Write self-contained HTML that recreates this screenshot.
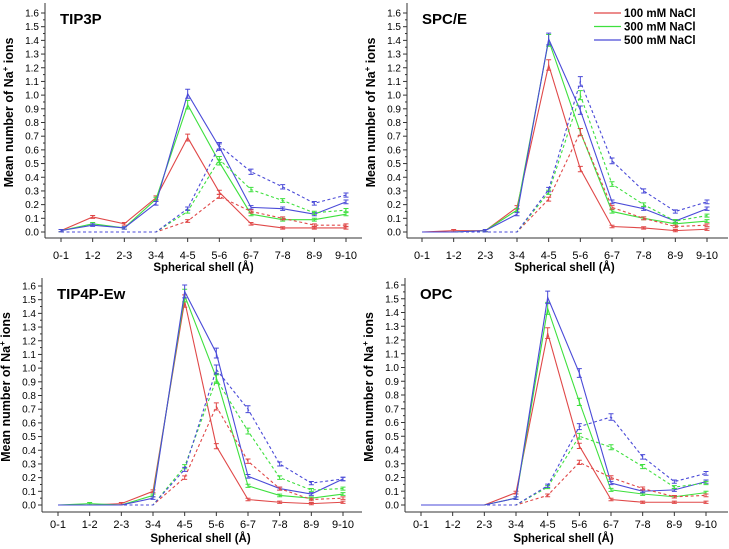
<!DOCTYPE html>
<html><head><meta charset="utf-8"><style>
html,body{margin:0;padding:0;background:#fff;}
svg{display:block;font-family:"Liberation Sans",Arial,sans-serif;}
</style></head><body>
<svg id="chart" width="729" height="549" viewBox="0 0 729 549"></svg>
<script>
const categories=["0-1","1-2","2-3","3-4","4-5","5-6","6-7","7-8","8-9","9-10"];
const yTicks=[0,0.1,0.2,0.3,0.4,0.5,0.6,0.7,0.8,0.9,1.0,1.1,1.2,1.3,1.4,1.5,1.6];
const panelTitles=["TIP3P","SPC/E","TIP4P-Ew","OPC"];
const seriesNames=["100 mM NaCl","300 mM NaCl","500 mM NaCl"];
const tip3pSolid=[
[0.01,0.11,0.06,0.25,0.69,0.29,0.06,0.03,0.03,0.03],
[0.01,0.06,0.03,0.24,0.93,0.51,0.13,0.09,0.09,0.13],
[0.01,0.05,0.03,0.21,1.01,0.62,0.18,0.17,0.13,0.22]];
const tip3pDashed=[
[0,0,0,0,0.08,0.26,0.15,0.10,0.05,0.05],
[0,0,0,0,0.15,0.53,0.31,0.23,0.14,0.16],
[0,0,0,0,0.17,0.63,0.44,0.33,0.21,0.27]];
const spceSolid=[
[0,0.01,0.01,0.18,1.22,0.46,0.04,0.03,0.01,0.02],
[0,0,0.01,0.16,1.40,0.73,0.15,0.10,0.06,0.08],
[0,0,0.01,0.13,1.41,0.89,0.22,0.17,0.08,0.17]];
const spceDashed=[
[0,0,0,0,0.24,0.73,0.18,0.10,0.04,0.05],
[0,0,0,0,0.29,1.00,0.35,0.20,0.08,0.12],
[0,0,0,0,0.31,1.10,0.52,0.30,0.15,0.22]];
const tip4pSolid=[
[0,0,0.01,0.10,1.49,0.43,0.04,0.02,0.01,0.02],
[0,0.01,0,0.07,1.53,0.93,0.14,0.07,0.05,0.08],
[0,0,0,0.05,1.56,1.11,0.21,0.12,0.08,0.19]];
const tip4pDashed=[
[0,0,0,0,0.20,0.72,0.32,0.12,0.04,0.05],
[0,0,0,0,0.28,0.92,0.54,0.20,0.11,0.12],
[0,0,0,0,0.26,0.99,0.70,0.30,0.16,0.19]];
const opcSolid=[
[0,0,0,0.09,1.25,0.43,0.04,0.02,0.02,0.02],
[0,0,0,0.05,1.43,0.75,0.11,0.08,0.06,0.09],
[0,0,0,0.05,1.51,0.96,0.16,0.10,0.11,0.17]];
const opcDashed=[
[0,0,0,0,0.07,0.31,0.20,0.12,0.06,0.07],
[0,0,0,0,0.13,0.50,0.42,0.28,0.13,0.16],
[0,0,0,0,0.14,0.57,0.64,0.35,0.17,0.23]];

const colors=["#e04848","#3ee03e","#4a4ad8"];
const NS="http://www.w3.org/2000/svg";
const svg=document.getElementById("chart");
function mk(tag,attrs,parent){const e=document.createElementNS(NS,tag);for(const k in attrs)e.setAttribute(k,attrs[k]);(parent||svg).appendChild(e);return e;}

const layouts=[
{ax:45,y0:232,y16:13,x0:61,x9:346,bot:238,right:362,top:3,lab:259,tit:271},
{ax:407,y0:232,y16:13,x0:422,x9:707,bot:238,right:728,top:3,lab:259,tit:271},
{ax:42,y0:505,y16:286,x0:58,x9:343,bot:512,right:362,top:278,lab:528,tit:542},
{ax:405,y0:505,y16:285,x0:421,x9:706,bot:512,right:728,top:278,lab:528,tit:542}];
const panelData=[[tip3pSolid,tip3pDashed],[spceSolid,spceDashed],[tip4pSolid,tip4pDashed],[opcSolid,opcDashed]];
const panelNames=["tip3p","spce","tip4p-ew","opc"];

layouts.forEach((L,p)=>{
  const g=mk("g",{});
  
  
  const xS=i=>L.x0+(L.x9-L.x0)*i/(categories.length-1);
  const yS=v=>L.y0-(L.y0-L.y16)*v/1.6;
  const ya=mk("line",{x1:L.ax,y1:L.top,x2:L.ax,y2:L.bot,stroke:"#333","stroke-width":1},g);
  
  const xa=mk("line",{x1:L.ax,y1:L.bot,x2:L.right,y2:L.bot,stroke:"#333","stroke-width":1},g);
  
  yTicks.forEach(t=>{
    const y=yS(t);
    mk("line",{x1:L.ax-4,y1:y,x2:L.ax,y2:y,stroke:"#333"},g);
    if(t<1.6) mk("line",{x1:L.ax-2,y1:yS(t+0.05),x2:L.ax,y2:yS(t+0.05),stroke:"#333"},g);
    const tx=mk("text",{x:L.ax-6,y:y+3.5,"text-anchor":"end","font-size":"10"},g);
    tx.textContent=t.toFixed(1);
    
  });
  categories.forEach((c,i)=>{
    const x=xS(i);
    mk("line",{x1:x,y1:L.bot,x2:x,y2:L.bot+4,stroke:"#333"},g);
    const tx=mk("text",{x:x,y:L.lab,"text-anchor":"middle","font-size":"11"},g);
    tx.textContent=c;
    
  });
  const xt=mk("text",{x:(L.x0+L.x9)/2,y:L.tit,"text-anchor":"middle","font-size":"11.5","font-weight":"bold"},g);
  xt.textContent="Spherical shell (Å)";
  
  const cy=(L.top+L.bot)/2-8, cx=L.ax-32;
  const yt=mk("text",{x:cx,y:cy,"text-anchor":"middle","font-size":"12.5","font-weight":"bold",transform:`rotate(-90 ${cx} ${cy})`},g);
  yt.innerHTML='Mean number of Na<tspan dy="-5" font-size="8">+</tspan><tspan dy="5"> ions</tspan>';
  
  const pt=mk("text",{x:L.ax+15,y:L.top+21,"font-size":"15","font-weight":"bold"},g);
  pt.textContent=panelTitles[p];
  
  panelData[p].forEach((set,d)=>{
    set.forEach((vals,s)=>{
      const pts=vals.map((v,i)=>xS(i)+","+yS(v)).join(" ");
      const pl=mk("polyline",{points:pts,fill:"none",stroke:colors[s],"stroke-width":1.1,"stroke-dasharray":d?"3,2.5":"none"},g);
      
      
      vals.forEach((v,i)=>{
        if(v<=0.005) return;
        const e=0.008+0.025*v;
        const x=xS(i),y1=yS(v+e),y2=yS(Math.max(v-e,0));
        mk("path",{d:`M${x},${y1}V${y2}M${x-2.5},${y1}H${x+2.5}M${x-2.5},${y2}H${x+2.5}`,stroke:colors[s],"stroke-width":1,fill:"none"},g);
      });
    });
  });
});
seriesNames.forEach((n,s)=>{
  const y=13+s*13.5;
  const ln=mk("line",{x1:594,y1:y,x2:621,y2:y,stroke:colors[s],"stroke-width":1.3});
  
  const t=mk("text",{x:624,y:y+4,"font-size":"11.5","font-weight":"bold"});
  t.textContent=n;
  
});
</script>
</body></html>
